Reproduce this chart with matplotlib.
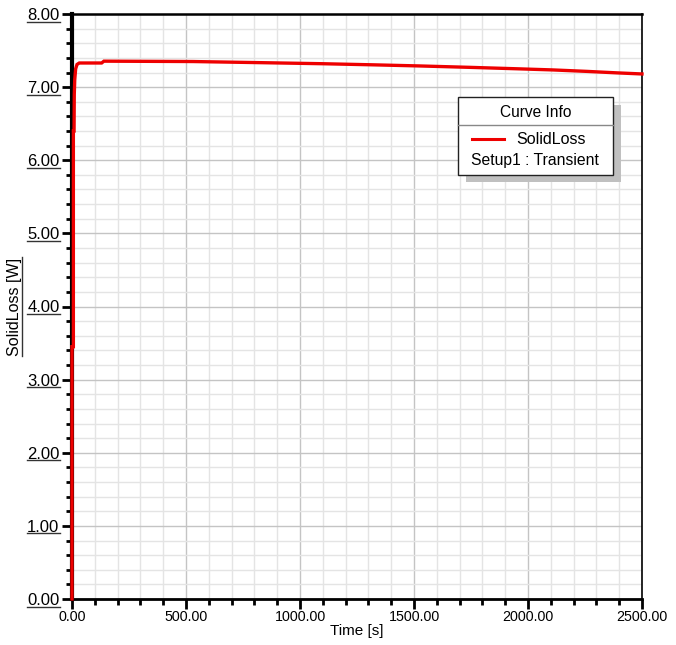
import numpy as np
import matplotlib
matplotlib.use("Agg")
import matplotlib.pyplot as plt
from matplotlib.patches import Rectangle
from matplotlib.lines import Line2D
from matplotlib.ticker import MultipleLocator

plt.rcParams['font.family'] = ['Liberation Sans', 'DejaVu Sans']

# data
time_s = [0, 0, 6, 6, 9, 10, 12, 16, 22, 32, 130, 140, 530, 820, 1100, 1320,
          1520, 1750, 1960, 2110, 2260, 2390, 2500]
solid_loss = [0.0, 3.45, 3.45, 6.4, 6.4, 6.9, 7.1, 7.25, 7.31, 7.33, 7.33, 7.355,
              7.35, 7.335, 7.32, 7.305, 7.29, 7.27, 7.25, 7.235, 7.215, 7.195, 7.18]
series_name = "SolidLoss"
setup_name = "Setup1 : Transient"
x_ticks = [0, 500, 1000, 1500, 2000, 2500]
y_ticks = [0, 1, 2, 3, 4, 5, 6, 7, 8]

fig = plt.figure(figsize=(6.76, 6.45), dpi=100)
ax = fig.add_axes([72/676, 46/645, 570/676, 585/645])

ax.plot(time_s, solid_loss, color='#ee0000', lw=2.4, zorder=5, clip_on=False,
        solid_joinstyle='miter')

ax.set_xlim(0, 2500)
ax.set_ylim(0, 8)
ax.xaxis.set_major_locator(MultipleLocator(500))
ax.xaxis.set_minor_locator(MultipleLocator(100))
ax.yaxis.set_major_locator(MultipleLocator(1))
ax.yaxis.set_minor_locator(MultipleLocator(0.2))
ax.grid(which='major', color='#c4c4c4', lw=1.0)
ax.grid(which='minor', color='#e4e4e4', lw=1.0)
ax.set_axisbelow(True)

ax.set_xticks(x_ticks)
ax.set_xticklabels(["%.2f" % v for v in x_ticks], fontsize=10.3)
ax.set_yticks(y_ticks)
ax.set_yticklabels(["%.2f" % v for v in y_ticks], fontsize=12)

ax.tick_params(axis='both', which='major', direction='out', length=7, width=2, color='black')
ax.tick_params(axis='both', which='minor', direction='out', length=4, width=2, color='black')
ax.tick_params(axis='x', which='major', pad=1)
ax.tick_params(axis='y', which='major', pad=2)

for side, w in [('left', 3), ('bottom', 2), ('top', 1.8), ('right', 1.2)]:
    ax.spines[side].set_color('black')
    ax.spines[side].set_linewidth(w)

ax.set_xlabel("Time [s]", fontsize=11, labelpad=0)
ax.set_ylabel("SolidLoss [W]", fontsize=11.5, labelpad=4)

# Curve Info box
bx0, bx1 = 0.677, 0.949
by0, by1 = 0.725, 0.858
sep = 0.810
ax.add_patch(Rectangle((bx0 + 0.014, by0 - 0.013), bx1 - bx0, by1 - by0,
                       transform=ax.transAxes, facecolor='#c0c0c0', edgecolor='none', zorder=6))
ax.add_patch(Rectangle((bx0, by0), bx1 - bx0, by1 - by0, transform=ax.transAxes,
                       facecolor='white', edgecolor='#222222', lw=1.0, zorder=7))
ax.add_line(Line2D([bx0, bx1], [sep, sep], transform=ax.transAxes, color='#888888',
                   lw=1.0, zorder=8))
ax.text((bx0 + bx1) / 2, 0.832, "Curve Info", transform=ax.transAxes,
        ha='center', va='center', fontsize=11.2, zorder=8)
ax.add_line(Line2D([bx0 + 0.024, bx0 + 0.081], [0.786, 0.786], transform=ax.transAxes,
                   color='#ee0000', lw=2.2, zorder=8))
ax.text(bx0 + 0.163, 0.786, series_name, transform=ax.transAxes, ha='center',
        va='center', fontsize=11.5, zorder=8)
ax.text((bx0 + bx1) / 2, 0.750, setup_name, transform=ax.transAxes, ha='center',
        va='center', fontsize=11.3, zorder=8)

# underline y tick labels and y label
fig.canvas.draw()
r = fig.canvas.get_renderer()
for t in ax.get_yticklabels() + [ax.yaxis.label]:
    bb = t.get_window_extent(r)
    if t is ax.yaxis.label:
        x = bb.x1
        fig.add_artist(Line2D([x, x], [bb.y0, bb.y1], transform=None, color='#333333', lw=1))
    else:
        y = bb.y0 + 1.5
        fig.add_artist(Line2D([bb.x0, bb.x1], [y, y], transform=None, color='#333333', lw=1))

fig.savefig("out.png", dpi=100)
